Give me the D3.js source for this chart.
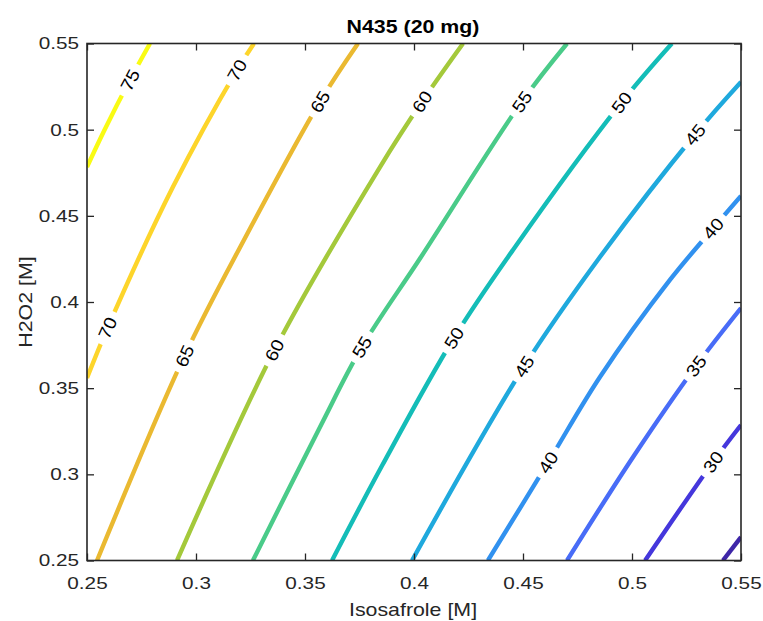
<!DOCTYPE html>
<html><head><meta charset="utf-8">
<script src="https://cdn.jsdelivr.net/npm/d3@7/dist/d3.min.js"></script>
<style>body{margin:0;background:#fff}svg{display:block}</style>
</head><body>
<svg id="chart" width="763" height="621"></svg>
<script>
// ---------- data ----------
const chartTitle = "N435 (20 mg)";
const xLabel = "Isosafrole [M]";
const yLabel = "H2O2 [M]";
const xDomain = [0.25, 0.55];
const yDomain = [0.25, 0.55];
const xTicks = [0.25, 0.3, 0.35, 0.4, 0.45, 0.5, 0.55];
const yTicks = [0.25, 0.3, 0.35, 0.4, 0.45, 0.5, 0.55];
const levels = [25, 30, 35, 40, 45, 50, 55, 60, 65, 70, 75];
const levelColors = ["#3e26a8", "#4537dc", "#486cf7", "#3191ef", "#1fa9dd", "#14bdb8",
                     "#4acb89", "#a4c93b", "#eab931", "#fdd52b", "#f9fb14"];

// contour lines: [Isosafrole, H2O2] points along each level
const line25 = [[0.5417,0.25],[0.55,0.2636]];
const line30 = [[0.506,0.25],[0.5372,0.3072],[0.55,0.3286]];
const line35 = [[0.4702,0.25],[0.5005,0.3101],[0.5294,0.3629],[0.55,0.3965]];
const line40 = [[0.4339,0.25],[0.4615,0.3069],[0.4853,0.3565],[0.5174,0.4128],[0.5372,0.4427],[0.55,0.4615]];
const line45 = [[0.3991,0.25],[0.4505,0.3626],[0.4853,0.4261],[0.5289,0.4972],[0.55,0.5277]];
const line50 = [[0.3624,0.25],[0.3855,0.3054],[0.4183,0.3791],[0.4454,0.4302],[0.4952,0.5158],[0.5183,0.55]];
const line55 = [[0.3261,0.25],[0.3569,0.3275],[0.3761,0.3739],[0.4032,0.4261],[0.4495,0.5163],[0.4702,0.55]];
const line60 = [[0.2913,0.25],[0.336,0.3721],[0.3844,0.4783],[0.4037,0.5163],[0.4225,0.55]];
const line65 = [[0.2546,0.25],[0.2947,0.3687],[0.322,0.436],[0.3569,0.5163],[0.3743,0.55]];
const line70 = [[0.25,0.3559],[0.2594,0.3849],[0.2894,0.4667],[0.3188,0.5346],[0.3266,0.55]];
const line75 = [[0.25,0.4783],[0.2578,0.4992],[0.2697,0.5288],[0.2789,0.55]];

// inline label positions on each level
const labels25 = [];
const labels30 = [[0.5372,0.3072]];
const labels35 = [[0.5294,0.3629]];
const labels40 = [[0.4615,0.3069],[0.5372,0.4427]];
const labels45 = [[0.4505,0.3626],[0.5289,0.4972]];
const labels50 = [[0.4183,0.3791],[0.4952,0.5158]];
const labels55 = [[0.3761,0.3739],[0.4495,0.5163]];
const labels60 = [[0.336,0.3721],[0.4037,0.5163]];
const labels65 = [[0.2947,0.3687],[0.3569,0.5163]];
const labels70 = [[0.2594,0.3849],[0.3188,0.5346]];
const labels75 = [[0.2697,0.5288]];

const allLines = [line25,line30,line35,line40,line45,line50,line55,line60,line65,line70,line75];
const allLabels = [labels25,labels30,labels35,labels40,labels45,labels50,labels55,labels60,labels65,labels70,labels75];
const series = levels.map((lv, i) => ({level: lv, color: levelColors[i], points: allLines[i], labels: allLabels[i]}));

// ---------- layout ----------
const L = 87, R = 741, T = 43.5, B = 560.5;
const TXT = "#262626";
const FONT = "'Liberation Sans', Arial, Helvetica, sans-serif";
const STRETCH = 1.22;

const svg = d3.select("#chart");
const x = d3.scaleLinear().domain(xDomain).range([L, R]);
const y = d3.scaleLinear().domain(yDomain).range([B, T]);

svg.append("defs").append("clipPath").attr("id", "plotClip")
  .append("rect").attr("x", L).attr("y", T).attr("width", R - L).attr("height", B - T);

const plot = svg.append("g").attr("clip-path", "url(#plotClip)");
const lineGen = d3.line().x(d => x(d[0])).y(d => y(d[1])).curve(d3.curveCatmullRom.alpha(0.5));

plot.selectAll("path.contour").data(series).join("path")
  .attr("class", "contour")
  .attr("d", d => lineGen(d.points))
  .attr("fill", "none")
  .attr("stroke", d => d.color)
  .attr("stroke-width", 4.4);

// labels with gaps
const labelData = [];
series.forEach(s => {
  s.labels.forEach(p => {
    let best = 0, bd = Infinity;
    s.points.forEach((q, k) => {
      const dd = Math.hypot(x(q[0]) - x(p[0]), y(q[1]) - y(p[1]));
      if (dd < bd) { bd = dd; best = k; }
    });
    const a = s.points[Math.max(0, best - 1)], b = s.points[Math.min(s.points.length - 1, best + 1)];
    const ang = Math.atan2(y(b[1]) - y(a[1]), x(b[0]) - x(a[0])) * 180 / Math.PI;
    labelData.push({level: s.level, px: x(p[0]), py: y(p[1]), ang});
  });
});
const lg = plot.selectAll("g.clabel").data(labelData).join("g")
  .attr("class", "clabel")
  .attr("transform", d => `translate(${d.px},${d.py}) rotate(${d.ang})`);
lg.append("rect").attr("x", -17.5).attr("y", -6).attr("width", 35).attr("height", 12).attr("fill", "#fff");
lg.append("text")
  .attr("transform", "scale(1.12,1)")
  .attr("text-anchor", "middle").attr("dy", "0.36em")
  .attr("font-family", FONT).attr("font-size", 17.5).attr("fill", "#000")
  .text(d => d.level);

// ---------- axes ----------
function styleAxis(g) {
  g.select(".domain").remove();
  g.selectAll(".tick line").attr("stroke", TXT).attr("stroke-width", 1.3);
  g.selectAll("text").attr("fill", TXT).attr("font-family", FONT).attr("font-size", 17)
    .attr("transform", `scale(${STRETCH},1)`);
}
svg.append("g").attr("transform", `translate(0,${B})`)
  .call(d3.axisBottom(x).tickValues(xTicks).tickSizeInner(-7).tickSizeOuter(0).tickPadding(16).tickFormat(d3.format("~g")))
  .call(styleAxis);
svg.append("g").attr("transform", `translate(${L},0)`)
  .call(d3.axisLeft(y).tickValues(yTicks).tickSizeInner(-7).tickSizeOuter(0).tickPadding(6.5).tickFormat(d3.format("~g")))
  .call(styleAxis);
svg.append("g").attr("transform", `translate(0,${T})`)
  .call(d3.axisTop(x).tickValues(xTicks).tickSizeInner(-7).tickSizeOuter(0).tickFormat(""))
  .call(styleAxis);
svg.append("g").attr("transform", `translate(${R},0)`)
  .call(d3.axisRight(y).tickValues(yTicks).tickSizeInner(-7).tickSizeOuter(0).tickFormat(""))
  .call(styleAxis);

svg.append("rect").attr("x", L).attr("y", T).attr("width", R - L).attr("height", B - T)
  .attr("fill", "none").attr("stroke", TXT).attr("stroke-width", 1.6);

// ---------- titles ----------
svg.append("text")
  .attr("transform", `translate(${(L + R) / 2 - 1},33) scale(${STRETCH},1)`)
  .attr("text-anchor", "middle").attr("font-family", FONT).attr("font-weight", "bold")
  .attr("font-size", 17.5).attr("fill", "#000").text(chartTitle);
svg.append("text")
  .attr("transform", `translate(${(L + R) / 2 - 1},616) scale(${STRETCH},1)`)
  .attr("text-anchor", "middle").attr("font-family", FONT)
  .attr("font-size", 17.5).attr("fill", TXT).text(xLabel);
svg.append("text")
  .attr("transform", `translate(32,${(T + B) / 2}) rotate(-90) scale(${STRETCH},1)`)
  .attr("text-anchor", "middle").attr("font-family", FONT)
  .attr("font-size", 17.5).attr("fill", TXT).text(yLabel);
</script>
</body></html>
